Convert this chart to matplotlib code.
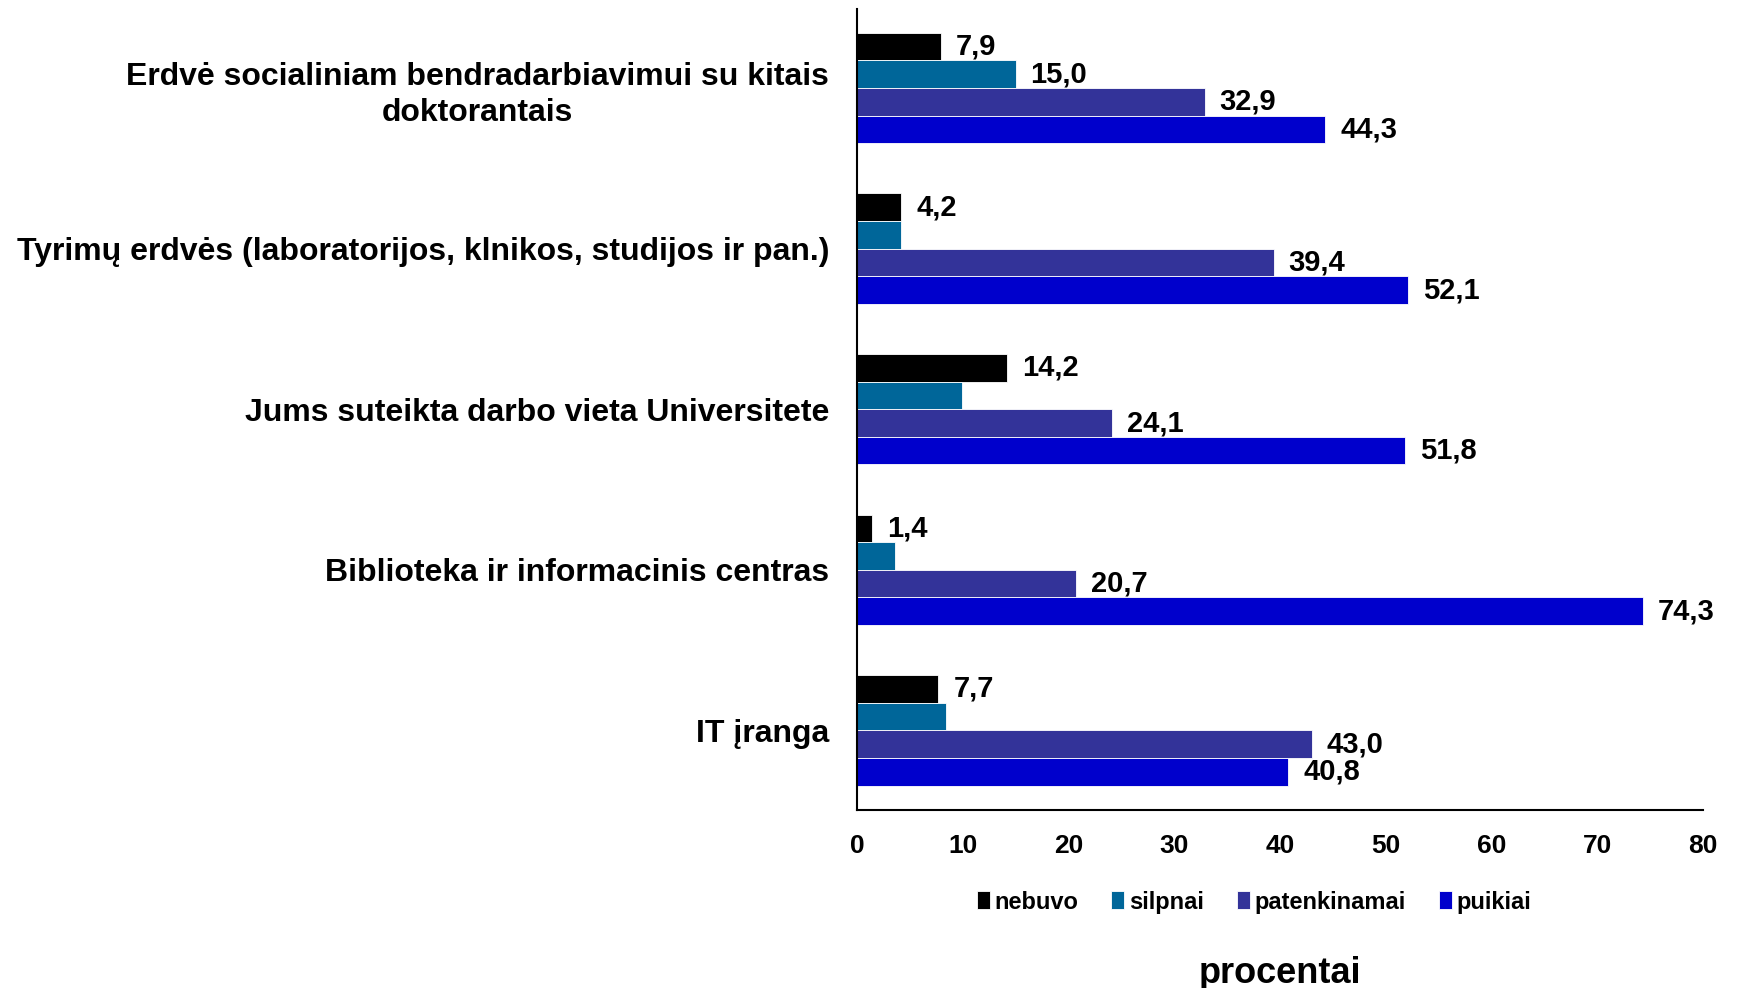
import matplotlib
matplotlib.use('Agg')
import matplotlib.pyplot as plt
import numpy as np

plt.rcParams['font.family'] = ['Liberation Sans', 'DejaVu Sans']
plt.rcParams['font.weight'] = 'bold'

categories = ['Erdvė socialiniam bendradarbiavimui su kitais\ndoktorantais',
              'Tyrimų erdvės (laboratorijos, klnikos, studijos ir pan.)',
              'Jums suteikta darbo vieta Universitete',
              'Biblioteka ir informacinis centras',
              'IT įranga']
series = ['nebuvo', 'silpnai', 'patenkinamai', 'puikiai']
nebuvo = [7.9, 4.2, 14.2, 1.4, 7.7]
silpnai = [15.0, 4.2, 9.9, 3.6, 8.4]
patenkinamai = [32.9, 39.4, 24.1, 20.7, 43.0]
puikiai = [44.3, 52.1, 51.8, 74.3, 40.8]
# which bars carry a value label
show_label = [[True] * 5, [True, False, False, False, False], [True] * 5, [True] * 5]

colors = ['#000000', '#006699', '#333399', '#0000CC']
values = [nebuvo, silpnai, patenkinamai, puikiai]

fig = plt.figure(figsize=(17.37, 9.88), dpi=100)
ax = fig.add_axes([0.4934, 0.180, 0.487, 0.811])

h = 0.172
y = np.arange(len(categories))
for i, (vals, c, name) in enumerate(zip(values, colors, series)):
    pos = y - 1.5 * h + i * h
    ax.barh(pos, vals, height=h, color=c, label=name, edgecolor='white', linewidth=0.6)
    for p, v, s in zip(pos, vals, show_label[i]):
        if s:
            ax.text(v + 1.4, p, f'{v:.1f}'.replace('.', ','), va='center', ha='left',
                    fontsize=21, fontweight='bold')

ax.set_xlim(0, 80)
ax.set_ylim(4.497, -0.493)
ax.set_xticks(range(0, 81, 10))
ax.set_yticks(y)
ax.set_yticklabels(categories, fontsize=23, fontweight='bold', multialignment='center',
                   linespacing=1.3)
ax.tick_params(axis='y', length=0, pad=20)
ax.tick_params(axis='x', length=0, pad=17, labelsize=19)
for lbl in ax.get_xticklabels():
    lbl.set_fontweight('bold')
for s in ['top', 'right']:
    ax.spines[s].set_visible(False)
for s in ['left', 'bottom']:
    ax.spines[s].set_linewidth(1.5)

ax.legend(loc='center', bbox_to_anchor=(0.722, 0.087), bbox_transform=fig.transFigure,
          ncol=4, frameon=False, handlelength=0.55, handleheight=0.8,
          handletextpad=0.2, columnspacing=1.4, prop={'weight': 'bold', 'size': 17})
fig.text(0.737, 0.015, 'procentai', ha='center', va='center', fontsize=26, fontweight='bold')

fig.savefig('out.png', dpi=100)
